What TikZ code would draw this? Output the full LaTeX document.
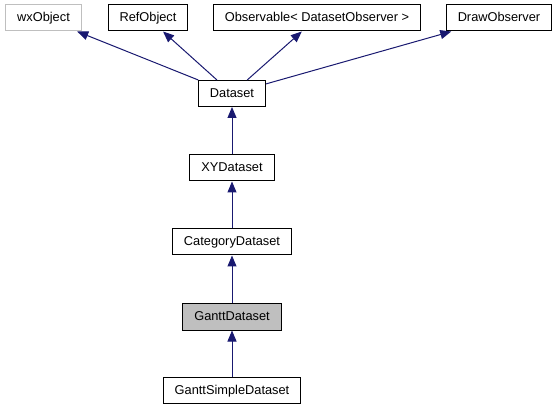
\documentclass[tikz,border=0pt]{standalone}
\usepackage{fontspec}
\setmainfont{Liberation Sans}
\usetikzlibrary{arrows.meta}
\definecolor{edgeblue}{HTML}{191970}
\definecolor{boxgray}{HTML}{BFBFBF}
\tikzset{
  cls/.style={draw=black,line width=1pt,fill=white,text height=9.2pt,text depth=1.6pt,inner xsep=11.5pt,inner ysep=7.6pt,font=\fontsize{12.8}{14}\selectfont},
  extcls/.style={cls,draw=boxgray},
  curcls/.style={cls,fill=boxgray},
  inherit/.style={draw=edgeblue,line width=1pt,-{Triangle[length=11pt,width=9pt]}}
}
\begin{document}
\begin{tikzpicture}[x=1pt,y=-1pt]
\useasboundingbox (0,0) rectangle (559,411);
\node[extcls] (wxobj) at (43.5,18) {wxObject};
\node[cls] (refobj) at (148,18) {RefObject};
\node[cls] (observable) at (317,18) {Observable< DatasetObserver >};
\node[cls] (drawobs) at (499,18) {DrawObserver};
\node[cls] (dataset) at (232,93.5) {Dataset};
\node[cls] (xydataset) at (232,168) {XYDataset};
\node[cls] (catdataset) at (232,242) {CategoryDataset};
\node[curcls] (ganttdataset) at (232,317) {GanttDataset};
\node[cls] (ganttsimple) at (232,390.5) {GanttSimpleDataset};
\draw[inherit] (dataset) -- (wxobj);
\draw[inherit] (dataset) -- (refobj);
\draw[inherit] (dataset) -- (observable);
\draw[inherit] (dataset) -- (drawobs);
\draw[inherit] (xydataset) -- (dataset);
\draw[inherit] (catdataset) -- (xydataset);
\draw[inherit] (ganttdataset) -- (catdataset);
\draw[inherit] (ganttsimple) -- (ganttdataset);
\end{tikzpicture}
\end{document}
